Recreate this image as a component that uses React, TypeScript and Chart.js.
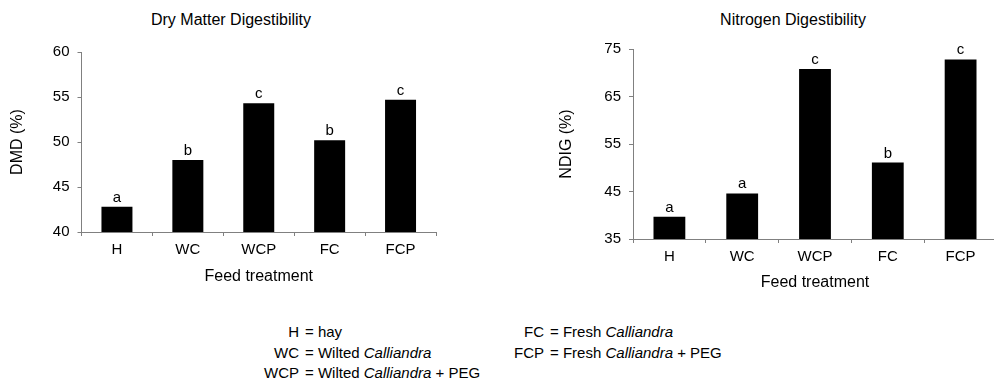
import React, { useEffect, useRef } from "react";
import { Chart, registerables } from "chart.js";

Chart.register(...registerables);

const categories = ["H", "WC", "WCP", "FC", "FCP"];
const dmdValues = [42.8, 48.0, 54.3, 50.2, 54.7];
const dmdLetters = ["a", "b", "c", "b", "c"];
const dmdTicks = [40, 45, 50, 55, 60];
const ndigValues = [39.7, 44.6, 70.8, 51.1, 72.8];
const ndigLetters = ["a", "a", "c", "b", "c"];
const ndigTicks = [35, 45, 55, 65, 75];

const legendLeft = [
  ["H", "hay", "", ""],
  ["WC", "Wilted ", "Calliandra", ""],
  ["WCP", "Wilted ", "Calliandra", " + PEG"],
];
const legendRight = [
  ["FC", "Fresh ", "Calliandra", ""],
  ["FCP", "Fresh ", "Calliandra", " + PEG"],
];

const FONT = "'Liberation Sans', Arial, Helvetica, sans-serif";
const AXIS = "#808080";

const letterPlugin = {
  id: "letters",
  afterDatasetsDraw(chart: any, _args: any, opts: any) {
    const letters: string[] = opts.letters || [];
    const meta = chart.getDatasetMeta(0);
    const ctx = chart.ctx;
    ctx.save();
    ctx.font = `15px ${FONT}`;
    ctx.fillStyle = "#000";
    ctx.textAlign = "center";
    ctx.textBaseline = "alphabetic";
    meta.data.forEach((el: any, i: number) => {
      ctx.fillText(letters[i] ?? "", el.x, el.y - 5);
    });
    ctx.restore();
  },
};

type Props = {
  values: number[];
  letters: string[];
  ticks: number[];
  yTitle: string;
  width: number;
  height: number;
  padTop: number;
  padRight: number;
  yWidth: number;
  yTitlePad: number;
  xHeight: number;
  xTitlePad: number;
};

function BarChart(p: Props) {
  const ref = useRef<HTMLCanvasElement | null>(null);
  useEffect(() => {
    if (!ref.current) return;
    const chart = new Chart(ref.current, {
      type: "bar",
      data: {
        labels: categories,
        datasets: [
          {
            data: p.values,
            backgroundColor: "#000",
            borderColor: "#000",
            borderWidth: 0,
            barPercentage: 0.437,
            categoryPercentage: 1,
          },
        ],
      },
      options: {
        responsive: false,
        animation: false,
        devicePixelRatio: 1,
        layout: { padding: { top: p.padTop, right: p.padRight, left: 0, bottom: 0 } },
        plugins: {
          legend: { display: false },
          title: { display: false },
          tooltip: { enabled: false },
          letters: { letters: p.letters },
        } as any,
        scales: {
          x: {
            grid: {
              offset: true,
              drawOnChartArea: false,
              drawTicks: true,
              tickLength: 4,
              color: AXIS,
            },
            border: { color: AXIS, width: 1 },
            ticks: { color: "#000", font: { family: FONT, size: 15 }, padding: 5 },
            title: {
              display: true,
              text: "Feed treatment",
              color: "#000",
              font: { family: FONT, size: 16 },
              padding: { top: 0, bottom: p.xTitlePad },
            },
            afterFit(scale: any) {
              scale.height = p.xHeight;
            },
          },
          y: {
            min: p.ticks[0],
            max: p.ticks[p.ticks.length - 1],
            grid: {
              drawOnChartArea: false,
              drawTicks: true,
              tickLength: 4,
              color: AXIS,
            },
            border: { color: AXIS, width: 1 },
            ticks: {
              stepSize: p.ticks[1] - p.ticks[0],
              color: "#000",
              font: { family: FONT, size: 15 },
              padding: 8,
            },
            title: {
              display: true,
              text: p.yTitle,
              color: "#000",
              font: { family: FONT, size: 16 },
              padding: { top: p.yTitlePad, bottom: 0 },
            },
            afterFit(scale: any) {
              scale.width = p.yWidth;
            },
          },
        },
      },
      plugins: [letterPlugin as any],
    });
    return () => chart.destroy();
  }, []);
  return (
    <canvas
      ref={ref}
      width={p.width}
      height={p.height}
      style={{ width: p.width, height: p.height, display: "block" }}
    />
  );
}

function LegendRow({ row, top, left }: { row: string[]; top: number; left: number }) {
  return (
    <div
      style={{
        position: "absolute",
        top,
        left,
        whiteSpace: "nowrap",
        lineHeight: "20px",
        fontSize: 15,
        fontFamily: FONT,
        color: "#000",
      }}
    >
      <span style={{ display: "inline-block", width: 60, textAlign: "right" }}>{row[0]}</span>
      <span style={{ marginLeft: 6 }}>= {row[1]}</span>
      {row[2] ? <i>{row[2]}</i> : null}
      {row[3] ? <span>{row[3]}</span> : null}
    </div>
  );
}

export default function App() {
  const titleStyle: React.CSSProperties = {
    position: "absolute",
    top: 10,
    width: 300,
    textAlign: "center",
    fontSize: 16,
    lineHeight: "20px",
    fontFamily: FONT,
    color: "#000",
    whiteSpace: "nowrap",
  };
  const rowTops = [322, 343, 363];
  return (
    <div
      style={{
        position: "fixed",
        left: 0,
        top: 0,
        width: 994,
        height: 385,
        overflow: "hidden",
        background: "#fff",
      }}
    >
      <div style={{ ...titleStyle, left: 231 - 150 }}>Dry Matter Digestibility</div>
      <div style={{ ...titleStyle, left: 793 - 150 }}>Nitrogen Digestibility</div>
      <div style={{ position: "absolute", left: 0, top: 0 }}>
        <BarChart
          values={dmdValues}
          letters={dmdLetters}
          ticks={dmdTicks}
          yTitle="DMD (%)"
          width={445}
          height={300}
          padTop={52}
          padRight={9}
          yWidth={81.5}
          yTitlePad={8.4}
          xHeight={68}
          xTitlePad={13.4}
        />
      </div>
      <div style={{ position: "absolute", left: 500, top: 0 }}>
        <BarChart
          values={ndigValues}
          letters={ndigLetters}
          ticks={ndigTicks}
          yTitle="NDIG (%)"
          width={500}
          height={300}
          padTop={49}
          padRight={3}
          yWidth={133}
          yTitlePad={57.4}
          xHeight={61}
          xTitlePad={7.4}
        />
      </div>
      {legendLeft.map((r, i) => (
        <LegendRow key={"l" + i} row={r} top={rowTops[i]} left={239} />
      ))}
      {legendRight.map((r, i) => (
        <LegendRow key={"r" + i} row={r} top={rowTops[i]} left={484} />
      ))}
    </div>
  );
}
